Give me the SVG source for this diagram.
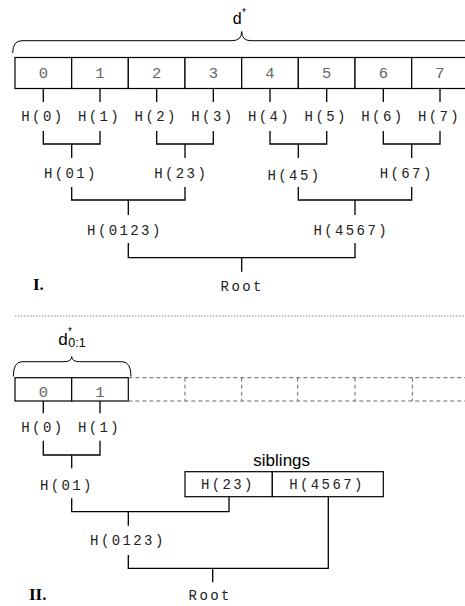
<svg xmlns="http://www.w3.org/2000/svg" width="465" height="606" viewBox="0 0 465 606">
<style>
.box{fill:#fff;stroke:#000;stroke-width:1.2}
.dash{fill:none;stroke:#666;stroke-width:1;stroke-dasharray:4 3}
.ln{fill:none;stroke:#000;stroke-width:1.3}
.brace{fill:none;stroke:#000;stroke-width:1}
.h{font-family:"Liberation Mono","Courier New",monospace;font-size:14px;letter-spacing:2.4px;fill:#222;text-anchor:middle}
.dg{font-family:"Liberation Mono","Courier New",monospace;font-size:15.5px;fill:#666;text-anchor:middle}
.sans{font-family:"Liberation Sans",Arial,sans-serif;fill:#000}
.roman{font-family:"Liberation Serif","Times New Roman",serif;font-weight:bold;font-size:17px;fill:#000}
</style>
<rect width="465" height="606" fill="#fff"/>
<!-- Section I -->
<g id="brace-top">
<path class="brace" d="M12.7,53 Q12.7,40.7 22,40.7 L232,40.7 Q241.7,40.7 241.7,31.5 Q241.7,40.7 251,40.7 L480,40.7"/>
<text class="sans" x="232.7" y="23.5" font-size="16">d</text>
<text class="sans" x="242" y="16" font-size="10">*</text>
</g>
<g id="data-row">
<g id="b0"><rect class="box" x="15" y="57.5" width="56.7" height="31"/><text class="dg" x="43.3" y="77.5">0</text></g>
<g id="b1"><rect class="box" x="71.7" y="57.5" width="56.6" height="31"/><text class="dg" x="100" y="77.5">1</text></g>
<g id="b2"><rect class="box" x="128.3" y="57.5" width="56.7" height="31"/><text class="dg" x="156.7" y="77.5">2</text></g>
<g id="b3"><rect class="box" x="185" y="57.5" width="56.7" height="31"/><text class="dg" x="213.3" y="77.5">3</text></g>
<g id="b4"><rect class="box" x="241.7" y="57.5" width="56.6" height="31"/><text class="dg" x="270" y="77.5">4</text></g>
<g id="b5"><rect class="box" x="298.3" y="57.5" width="56.7" height="31"/><text class="dg" x="326.7" y="77.5">5</text></g>
<g id="b6"><rect class="box" x="355" y="57.5" width="56.7" height="31"/><text class="dg" x="383.3" y="77.5">6</text></g>
<g id="b7"><rect class="box" x="411.7" y="57.5" width="56.6" height="31"/><text class="dg" x="440" y="77.5">7</text></g>
</g>
<g id="h0"><text class="h" x="42.9" y="120.5">H(0)</text></g>
<g id="h1"><text class="h" x="99.5" y="120.5">H(1)</text></g>
<g id="h2"><text class="h" x="156.2" y="120.5">H(2)</text></g>
<g id="h3"><text class="h" x="212.9" y="120.5">H(3)</text></g>
<g id="h4"><text class="h" x="269.5" y="120.5">H(4)</text></g>
<g id="h5"><text class="h" x="326.2" y="120.5">H(5)</text></g>
<g id="h6"><text class="h" x="382.9" y="120.5">H(6)</text></g>
<g id="h7"><text class="h" x="439.5" y="120.5">H(7)</text></g>
<g id="h01"><text class="h" x="70.9" y="178">H(01)</text></g>
<g id="h23"><text class="h" x="181.2" y="178">H(23)</text></g>
<g id="h45"><text class="h" x="294.5" y="180">H(45)</text></g>
<g id="h67"><text class="h" x="406.7" y="178">H(67)</text></g>
<g id="h0123"><text class="h" x="124.9" y="235">H(0123)</text></g>
<g id="h4567"><text class="h" x="351.2" y="235">H(4567)</text></g>
<g id="root1"><text class="h" x="242.2" y="290.5">Root</text></g>
<g id="label-I"><text class="roman" x="33" y="290">I.</text></g>
<!-- separator -->
<line x1="15" y1="316" x2="465" y2="316" stroke="#888" stroke-width="1" stroke-dasharray="1.5 1.5"/>
<!-- Section II -->
<g id="brace-bottom">
<path class="brace" d="M13.3,376.5 Q13.3,361.7 22,361.7 L64,361.7 Q71.7,361.7 71.7,356.5 Q71.7,361.7 79.5,361.7 L122,361.7 Q131,361.7 131,376.5"/>
<text class="sans" x="58.3" y="345" font-size="17">d</text>
<text class="sans" x="68" y="334.5" font-size="10">*</text>
<text class="sans" x="68.3" y="347.3" font-size="12.5">0:1</text>
</g>
<g id="p0"><rect class="box" x="15" y="377.7" width="56.7" height="23.3"/><text class="dg" x="43.3" y="396.5">0</text></g>
<g id="p1"><rect class="box" x="71.7" y="377.7" width="56.6" height="23.3"/><text class="dg" x="100" y="396.5">1</text></g>
<g id="missing">
<path class="dash" d="M128.3,377.7 H465 M128.3,401 H465 M185,377.7 V401 M241.7,377.7 V401 M297.7,377.7 V401 M355,377.7 V401 M412.3,377.7 V401"/>
</g>
<g id="q0"><text class="h" x="42.9" y="431.5">H(0)</text></g>
<g id="q1"><text class="h" x="99.5" y="431.5">H(1)</text></g>
<g id="q01"><text class="h" x="66.9" y="490">H(01)</text></g>
<g id="siblings">
<text class="sans" x="281.7" y="465.7" font-size="17" text-anchor="middle">siblings</text>
<g id="s23"><rect class="box" x="185" y="471.7" width="87.3" height="25"/><text class="h" x="227.9" y="489">H(23)</text></g>
<g id="s4567"><rect class="box" x="272.3" y="471.7" width="111" height="25"/><text class="h" x="327" y="489">H(4567)</text></g>
</g>
<g id="q0123"><text class="h" x="127.9" y="545">H(0123)</text></g>
<g id="root2"><text class="h" x="210.2" y="600">Root</text></g>
<g id="label-II"><text class="roman" x="29" y="600">II.</text></g>
<!-- connectors -->
<g id="connectors" class="ln">
<path d="M43.3,88.5 V102 M100,88.5 V102 M156.7,88.5 V102 M213.3,88.5 V102 M270,88.5 V102 M326.7,88.5 V102 M383.3,88.5 V102 M440,88.5 V102"/>
<path d="M43.3,131 V144 H100 V131 M71.7,144 V158"/>
<path d="M156.7,131 V144 H213.3 V131 M185,144 V158"/>
<path d="M270,131 V144 H326.7 V131 M298.3,144 V158"/>
<path d="M383.3,131 V144 H440 V131 M411.7,144 V158"/>
<path d="M71.7,187 V200 H185 V187 M128.3,200 V215"/>
<path d="M298.3,187 V200 H411.7 V187 M355,200 V215"/>
<path d="M128.3,243 V257.7 H355 V243 M241.7,257.7 V271.7"/>
<path d="M43.3,401 V413.3 M100,401 V413.3"/>
<path d="M43.3,440.7 V455 H100 V440.7 M71.7,455 V468.3"/>
<path d="M71.7,498.3 V511.7 H229 V496.7 M128.3,511.7 V525.7"/>
<path d="M128.3,555 V568.3 H328.3 V496.7 M212.7,568.3 V582.3"/>
</g>
</svg>
